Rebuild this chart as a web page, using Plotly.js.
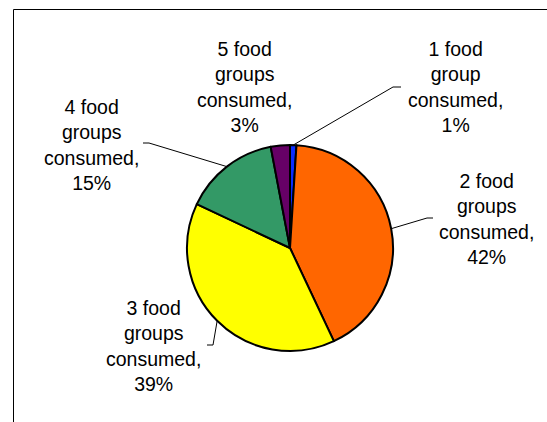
<!DOCTYPE html>
<html>
<head>
<meta charset="utf-8">
<script src="https://cdn.plot.ly/plotly-3.0.1.min.js"></script>
<style>html,body{margin:0;padding:0;background:#fff;}#chart{width:547px;height:422px;}</style>
</head>
<body>
<div id="chart"></div>
<script>
// ---- data ----
const categories = ['1 food group consumed', '2 food groups consumed', '3 food groups consumed', '4 food groups consumed', '5 food groups consumed'];
const labelLines = [
  ['1 food', 'group', 'consumed,'],
  ['2 food', 'groups', 'consumed,'],
  ['3 food', 'groups', 'consumed,'],
  ['4 food', 'groups', 'consumed,'],
  ['5 food', 'groups', 'consumed,']
];
const values = [1, 42, 39, 15, 3];
const colors = ['#0a2dff', '#ff6600', '#ffff00', '#339966', '#660066'];

// ---- layout constants (pixels) ----
const W = 547, H = 422;
const cx = 290, cy = 248, R = 103;
// label text centres
const labelPos = [[455, 87], [486, 219], [153, 346], [91, 145], [244, 87]];
// leader line: stub end near the label, and elbow (null = no leader)
const leaderEnd = [[401, 87], [433, 218], [207, 345], [143, 143], null];
const leaderElbow = [[393, 87], [427, 218], [213, 345], [149, 143], null];

const px = x => x / W;
const py = y => 1 - y / H;

const total = values.reduce((a, b) => a + b, 0);
let cum = 0;
const shapes = [];
const annotations = [];
values.forEach((v, i) => {
  const mid = (cum + v / 2) / total * 2 * Math.PI; // clockwise from top
  cum += v;
  const ex = cx + R * Math.sin(mid), ey = cy - R * Math.cos(mid);
  if (leaderEnd[i]) {
    const e = leaderEnd[i], b = leaderElbow[i];
    shapes.push({
      type: 'path', xref: 'paper', yref: 'paper',
      path: `M ${px(ex)} ${py(ey)} L ${px(b[0])} ${py(b[1])} L ${px(e[0])} ${py(e[1])}`,
      line: {color: '#000', width: 1}
    });
  }
  annotations.push({
    xref: 'paper', yref: 'paper', x: px(labelPos[i][0]), y: py(labelPos[i][1]),
    xanchor: 'center', yanchor: 'middle', showarrow: false, align: 'center',
    text: labelLines[i].join('<br>') + '<br>' + v + '%',
    font: {family: 'Liberation Sans, Arial, sans-serif', size: 19.5, color: '#000'}
  });
});

// chart frame (only top and left edges visible in the cropped picture)
shapes.push({
  type: 'rect', xref: 'paper', yref: 'paper',
  x0: px(13.5), x1: 1.05, y0: -0.05, y1: py(9.5),
  line: {color: '#000', width: 1}, fillcolor: 'rgba(0,0,0,0)'
});

const trace = {
  type: 'pie',
  labels: categories,
  values: values,
  sort: false,
  direction: 'clockwise',
  rotation: 0,
  textinfo: 'none',
  hoverinfo: 'label+percent',
  marker: {colors: colors, line: {color: '#000', width: 2}},
  domain: {x: [px(cx - R), px(cx + R)], y: [py(cy + R), py(cy - R)]},
  showlegend: false
};

const layout = {
  width: W, height: H,
  margin: {l: 0, r: 0, t: 0, b: 0},
  paper_bgcolor: '#fff', plot_bgcolor: '#fff',
  showlegend: false,
  shapes: shapes,
  annotations: annotations
};

Plotly.newPlot('chart', [trace], layout, {displayModeBar: false, staticPlot: true});
</script>
</body>
</html>
